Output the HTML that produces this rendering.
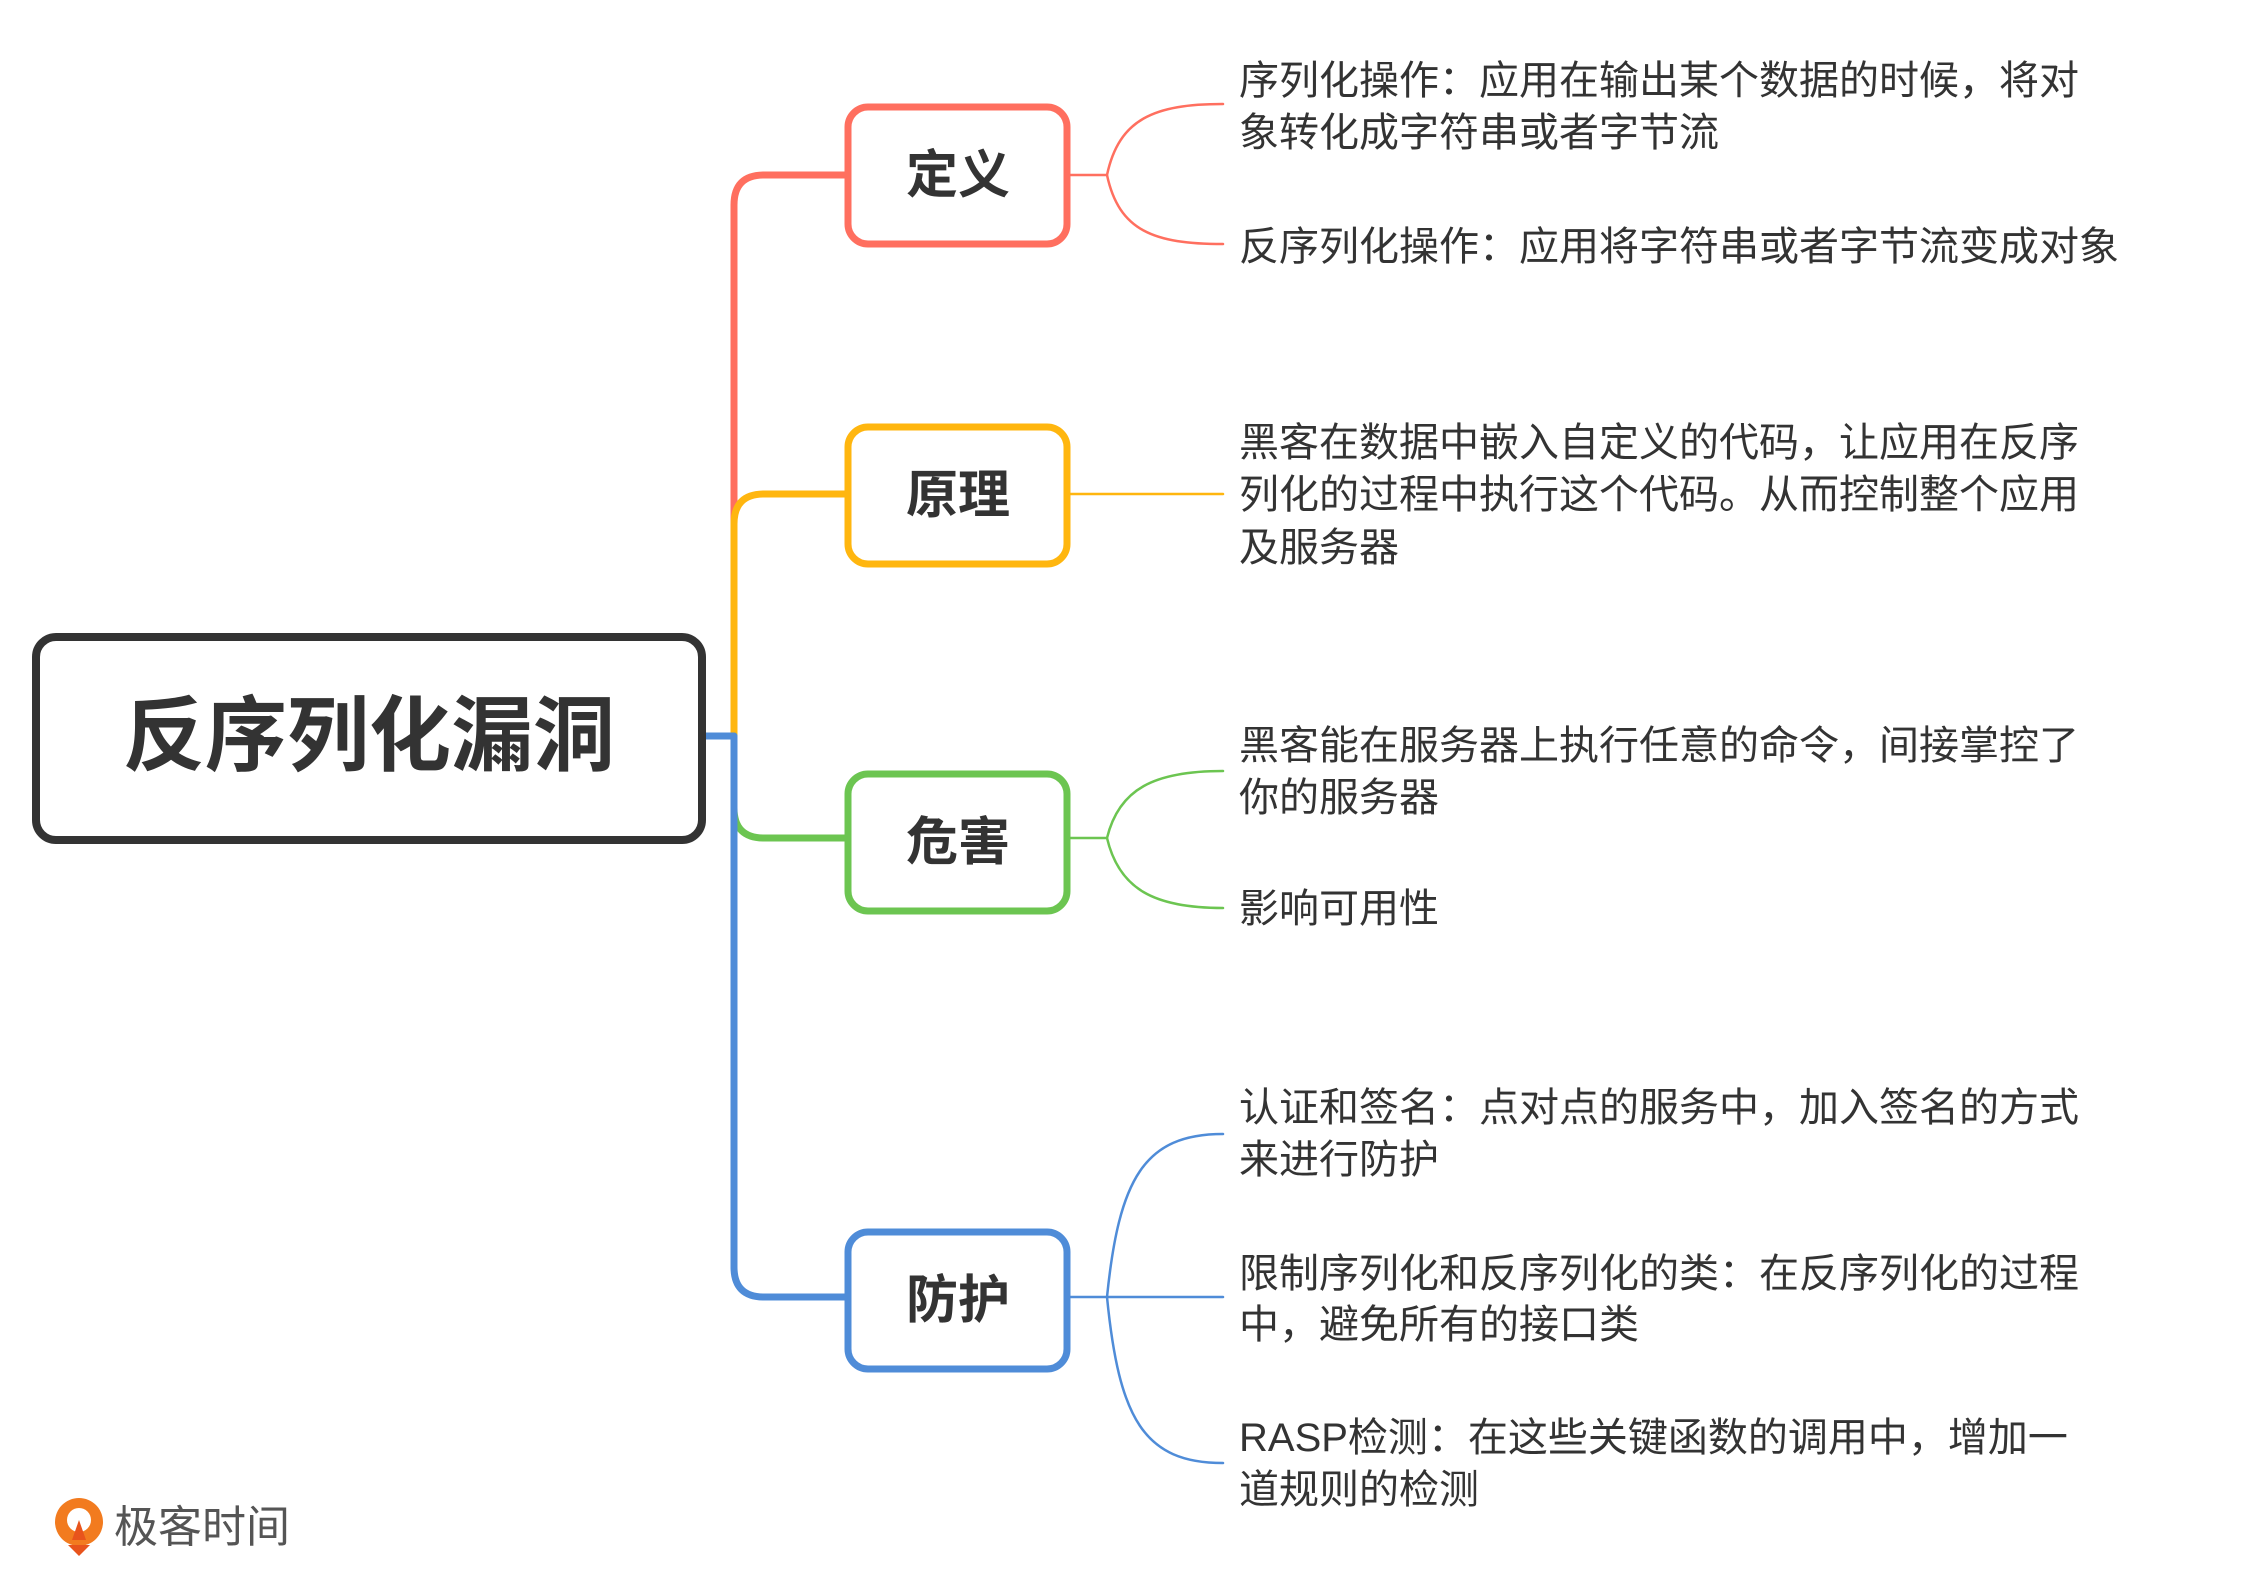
<!DOCTYPE html>
<html><head><meta charset="utf-8"><style>
html,body{margin:0;padding:0;background:#fff;}
svg text{font-family:"Liberation Sans","Noto Sans CJK SC",sans-serif;fill:#333;}
</style></head><body>
<svg width="2250" height="1587" viewBox="0 0 2250 1587" xmlns="http://www.w3.org/2000/svg">
<g transform="translate(-6,-1)">
<g fill="none" stroke-linecap="round" stroke-linejoin="round">
 <path d="M708 737 H740 V206 Q740 176 770 176 H851" stroke="#FF6F5F" stroke-width="7"/>
 <path d="M708 737 H740 V525 Q740 495 770 495 H851" stroke="#FFB60F" stroke-width="7"/>
 <path d="M708 737 H740 V809 Q740 839 770 839 H851" stroke="#6CC551" stroke-width="7"/>
 <path d="M708 737 H740 V1268 Q740 1298 770 1298 H851" stroke="#4F8CD8" stroke-width="7"/>
 <path d="M1076 176 H1113 C1125 120 1160 105 1229 105" stroke="#FF6F5F" stroke-width="2.5"/>
 <path d="M1113 176 C1125 232 1160 245 1229 245" stroke="#FF6F5F" stroke-width="2.5"/>
 <path d="M1076 495 H1229" stroke="#FFB60F" stroke-width="2.5"/>
 <path d="M1076 839 H1113 C1125 790 1160 772 1229 772" stroke="#6CC551" stroke-width="2.5"/>
 <path d="M1113 839 C1125 890 1160 909 1229 909" stroke="#6CC551" stroke-width="2.5"/>
 <path d="M1076 1298 H1229" stroke="#4F8CD8" stroke-width="2.5"/>
 <path d="M1113 1298 C1125 1180 1150 1135 1229 1135" stroke="#4F8CD8" stroke-width="2.5"/>
 <path d="M1113 1298 C1125 1420 1150 1464 1229 1464" stroke="#4F8CD8" stroke-width="2.5"/>
 <rect x="854" y="108" width="219" height="137" rx="20" stroke="#FF6F5F" stroke-width="7" fill="#fff"/>
 <rect x="854" y="428" width="219" height="137" rx="20" stroke="#FFB60F" stroke-width="7" fill="#fff"/>
 <rect x="854" y="775" width="219" height="137" rx="20" stroke="#6CC551" stroke-width="7" fill="#fff"/>
 <rect x="854" y="1233" width="219" height="137" rx="20" stroke="#4F8CD8" stroke-width="7" fill="#fff"/>
</g>
<g font-size="52" font-weight="bold" text-anchor="middle">
 <text x="964" y="194">定义</text>
 <text x="964" y="514">原理</text>
 <text x="964" y="861">危害</text>
 <text x="964" y="1319">防护</text>
</g>
<g font-size="40">
 <text x="1245" y="95">序列化操作：应用在输出某个数据的时候，将对</text>
 <text x="1245" y="147">象转化成字符串或者字节流</text>
 <text x="1245" y="261">反序列化操作：应用将字符串或者字节流变成对象</text>
 <text x="1245" y="457">黑客在数据中嵌入自定义的代码，让应用在反序</text>
 <text x="1245" y="509">列化的过程中执行这个代码。从而控制整个应用</text>
 <text x="1245" y="562">及服务器</text>
 <text x="1245" y="760">黑客能在服务器上执行任意的命令，间接掌控了</text>
 <text x="1245" y="812">你的服务器</text>
 <text x="1245" y="923">影响可用性</text>
 <text x="1245" y="1122">认证和签名：点对点的服务中，加入签名的方式</text>
 <text x="1245" y="1174">来进行防护</text>
 <text x="1245" y="1288">限制序列化和反序列化的类：在反序列化的过程</text>
 <text x="1245" y="1339">中，避免所有的接口类</text>
 <text x="1245" y="1452">RASP检测：在这些关键函数的调用中，增加一</text>
 <text x="1245" y="1504">道规则的检测</text>
</g>
</g>
<rect x="36" y="637" width="666" height="203" rx="20" stroke="#333" stroke-width="8" fill="#fff"/>
<text x="369" y="764" font-size="82" font-weight="bold" text-anchor="middle">反序列化漏洞</text>
<g>
 <circle cx="79" cy="1522" r="24" fill="#F27B1F"/>
 <circle cx="79" cy="1520" r="12" fill="#fff"/>
 <path d="M68 1545 L79 1556 L90 1545 Z" fill="#E8541C"/>
 <path d="M79 1520 L72 1540 L86 1540 Z" fill="#E8541C"/>
 <text x="114" y="1542" font-size="44" style="fill:#555">极客时间</text>
</g>
</svg>
</body></html>
